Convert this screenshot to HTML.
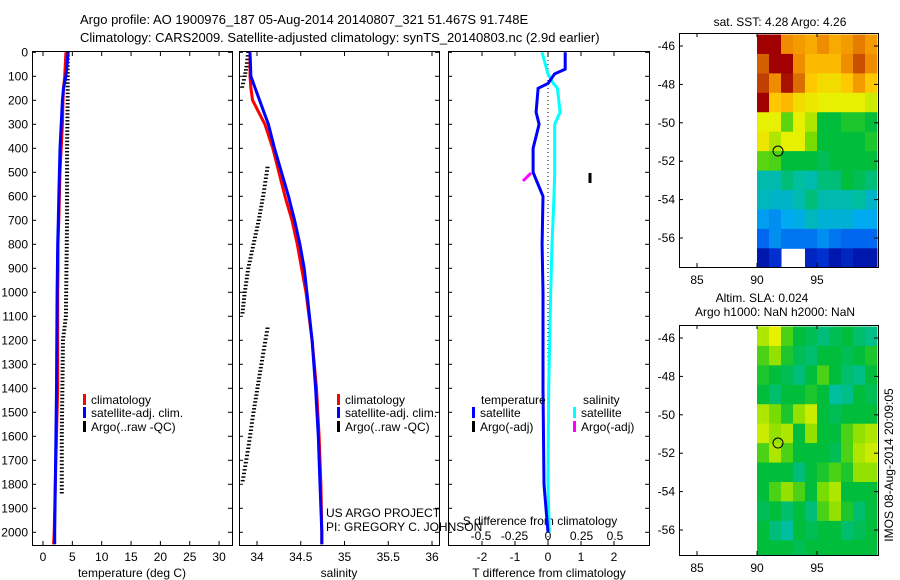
<!DOCTYPE html>
<html><head><meta charset="utf-8"><style>
body{margin:0;background:#fff;}
svg{display:block;font-family:"Liberation Sans",sans-serif;}
text{font-size:12px;fill:#000;}
</style></head><body>
<svg id="c" width="900" height="580" xmlns="http://www.w3.org/2000/svg">
<text x="80" y="24" style="font-size:13px">Argo profile: AO 1900976_187 05-Aug-2014 20140807_321 51.467S 91.748E</text>
<text x="80" y="42" style="font-size:13px">Climatology: CARS2009. Satellite-adjusted climatology: synTS_20140803.nc (2.9d earlier)</text>
<g id="g"></g>
</svg>
<script>
// ---- data ----
const depthClim = [0,100,150,200,300,400,500,600,700,800,900,1000,1200,1400,1600,1800,2000,2050];
const tempClim  = [3.9,3.7,3.5,3.4,3.3,3.1,2.9,2.8,2.7,2.55,2.55,2.5,2.5,2.5,2.3,2.1,1.9,1.8];
const tempSat   = [4.3,3.9,3.5,3.3,3.1,2.9,2.8,2.7,2.6,2.5,2.45,2.4,2.35,2.3,2.2,2.1,2.0,2.0];
const salClim   = [33.92,33.92,33.93,33.95,34.09,34.18,34.25,34.32,34.4,34.46,34.51,34.56,34.63,34.68,34.71,34.73,34.74,34.74];
const salSat    = [33.92,33.93,33.98,34.03,34.13,34.2,34.28,34.36,34.43,34.49,34.54,34.57,34.63,34.67,34.7,34.72,34.74,34.74];
const depthArgoT = [0,200,400,500,700,900,1100,1200,1400,1600,1850];
const tempArgo   = [4.2,4.2,4.1,4.1,4.1,4.0,3.9,3.4,3.3,3.2,3.2];
const depthArgoS1 = [0,60,100,160];
const salArgo1    = [33.9,33.88,33.86,33.82];
const depthArgoS2 = [480,600,700,800,900,1000,1100];
const salArgo2    = [34.12,34.07,34.02,33.96,33.9,33.86,33.83];
const depthArgoS3 = [1150,1300,1500,1650,1800];
const salArgo3    = [34.12,34.05,33.96,33.9,33.83];
const depthDiff = [0,70,90,130,150,250,300,400,500,600,800,1000,1400,1800,2000];
const tDiffSat  = [0.52,0.52,0.2,0,-0.3,-0.36,-0.27,-0.45,-0.45,-0.15,-0.18,-0.15,-0.15,-0.12,0.0];
const sDiffSat  = [-0.045,-0.01,0,0.04,0.07,0.09,0.05,0.05,0.05,0.045,0.03,0.02,0.005,0.0,0.01];
const tTicks = [0,5,10,15,20,25,30];
const sTicks = [34,34.5,35,35.5,36];
const sTickLabels = ["34","34.5","35","35.5","36"];
const dTicks = [0,100,200,300,400,500,600,700,800,900,1000,1100,1200,1300,1400,1500,1600,1700,1800,1900,2000];
const tdTicks = [-2,-1,0,1,2];
const sdTicks = [-0.5,-0.25,0,0.25,0.5];
const sdTickLabels = ["-0.5","-0.25","0","0.25","0.5"];
const lonTicks = [85,90,95];
const latTicks = [-46,-48,-50,-52,-54,-56];
// SST map cells (colormap index 0..1), rows from -45.5 down, cols 90..100E
const sstGrid = [
[1,1,.82,.8,.78,.82,.78,.8,.84,.8],
[.88,1,1,.82,.76,.76,.76,.82,.9,.82],
[.92,.82,.98,.86,.74,.7,.7,.74,.8,.74],
[1,.74,.76,.7,.68,.66,.66,.66,.66,.64],
[.66,.66,.56,.66,.62,.5,.5,.52,.52,.5],
[.68,.62,.66,.66,.58,.5,.5,.5,.5,.52],
[.56,.55,.5,.5,.5,.48,.5,.5,.5,.5],
[.4,.4,.45,.42,.4,.45,.45,.5,.48,.45],
[.38,.36,.36,.4,.45,.4,.4,.4,.42,.36],
[.28,.26,.3,.32,.38,.34,.34,.34,.3,.3],
[.2,.26,.22,.22,.22,.26,.22,.2,.2,.2],
[.05,.1,-1,-1,.08,.1,.05,.08,.05,.05]];
const slaGrid = [
[.62,.66,.55,.5,.48,.45,.48,.5,.46,.44],
[.55,.6,.52,.48,.46,.5,.5,.48,.5,.52],
[.52,.5,.48,.45,.5,.55,.5,.46,.44,.5],
[.5,.46,.5,.5,.52,.5,.42,.44,.5,.48],
[.62,.58,.52,.6,.64,.5,.48,.5,.5,.5],
[.64,.6,.62,.5,.6,.5,.5,.55,.6,.62],
[.55,.62,.55,.5,.5,.5,.48,.55,.62,.64],
[.5,.5,.5,.45,.5,.52,.55,.52,.6,.6],
[.5,.55,.6,.55,.5,.58,.62,.5,.5,.5],
[.48,.5,.46,.5,.45,.55,.6,.52,.46,.5],
[.5,.45,.42,.5,.48,.5,.5,.46,.48,.5],
[.5,.5,.5,.48,.5,.5,.5,.5,.5,.5]];

// ---- axis functions ----
const yD = d => 52.3 + d*0.24;
const xT = t => 43 + t*5.87;
const xS = s => 257 + (s-34)*87.5;
const xTd = t => 548 + t*33;
const xSd = s => 548 + s*134;
const xLon = l => 757 + (l-90)*12;
const yLatTop = l => 46 + (-46-l)*19.2;
const yLatBot = l => 338 + (-46-l)*19.2;

const NS="http://www.w3.org/2000/svg", G=document.getElementById('g');
function mk(tag, at, parent){const e=document.createElementNS(NS,tag);for(const k in at)e.setAttribute(k,at[k]);(parent||G).appendChild(e);return e;}
function txt(x,y,s,anchor,extra){const e=mk('text',Object.assign({x:x,y:y,'text-anchor':anchor||'start'},extra||{}));e.textContent=s;return e;}
function line(xs,ys,col,w,dash,name){
  let d='';for(let i=0;i<xs.length;i++)d+=(i?'L':'M')+xs[i].toFixed(1)+' '+ys[i].toFixed(1);
  const p=mk('path',{d:d,fill:'none',stroke:col,'stroke-width':w,'stroke-dasharray':dash||'none'});
  
  
  return p;}
function stepLine(vals,deps,fx,col,w,name){
  const xs=[],ys=[];for(let i=0;i<vals.length;i++){xs.push(fx(vals[i]));ys.push(yD(deps[i]));}
  return line(xs,ys,col,w,null,name);}
function dashes(vals,deps,fx,col,name){
  const g=mk('g',{});
  
  
  for(let i=0;i<vals.length-1;i++){
    const n=Math.max(1,Math.round((yD(deps[i+1])-yD(deps[i]))/3.5));
    for(let k=0;k<n;k++){const f=k/n;const v=vals[i]+(vals[i+1]-vals[i])*f;const d=deps[i]+(deps[i+1]-deps[i])*f;
      mk('rect',{x:fx(v)-2,y:yD(d)-0.8,width:4,height:1.5,fill:col},g);}
  }
  return g;}
function box(x1,y1,x2,y2,name){const r=mk('rect',{x:x1,y:y1,width:x2-x1,height:y2-y1,fill:'none',stroke:'#000','stroke-width':1});
  
  }

box(32.5,51.5,232.5,545.5,'temperature-panel');
box(239.5,51.5,439.5,545.5,'salinity-panel');
box(448.5,51.5,649.5,545.5,'difference-panel');
dTicks.forEach(d=>{const y=yD(d);
  const t=txt(28,y+4,String(d),'end');
  
  
  [[32,36],[228,232],[239,243],[435,439],[448,452],[645,649]].forEach(a=>mk('line',{x1:a[0],x2:a[1],y1:y,y2:y,stroke:'#000'}));
});
tTicks.forEach(t=>{const x=xT(t);mk('line',{x1:x,x2:x,y1:545,y2:541,stroke:'#000'});mk('line',{x1:x,x2:x,y1:52,y2:56,stroke:'#000'});
  const e=txt(x,561,String(t),'middle');});
sTicks.forEach((s,i)=>{const x=xS(s);mk('line',{x1:x,x2:x,y1:545,y2:541,stroke:'#000'});mk('line',{x1:x,x2:x,y1:52,y2:56,stroke:'#000'});
  const e=txt(x,561,sTickLabels[i],'middle');});
tdTicks.forEach(t=>{const x=xTd(t);mk('line',{x1:x,x2:x,y1:545,y2:541,stroke:'#000'});mk('line',{x1:x,x2:x,y1:52,y2:56,stroke:'#000'});
  const e=txt(x,561,String(t),'middle');});
sdTicks.forEach((s,i)=>{const x=xSd(s);
  const e=txt(x,540,sdTickLabels[i],'middle');});
let e;
e=txt(132,577,'temperature (deg C)','middle');
e=txt(339,577,'salinity','middle');
e=txt(549,577,'T difference from climatology','middle');
e=txt(540,525,'S difference from climatology','middle');

dashes(tempArgo,depthArgoT,xT,'#000','temperature-argo');
stepLine(tempClim,depthClim,xT,'#f00',3,'temperature-climatology');
stepLine(tempSat,depthClim,xT,'#00f',3,'temperature-satellite-adj');
dashes(salArgo1,depthArgoS1,xS,'#000','salinity-argo-upper');
dashes(salArgo2,depthArgoS2,xS,'#000','salinity-argo-mid');
dashes(salArgo3,depthArgoS3,xS,'#000','salinity-argo-deep');
stepLine(salClim,depthClim,xS,'#f00',3,'salinity-climatology');
stepLine(salSat,depthClim,xS,'#00f',3,'salinity-satellite-adj');
line([548,548],[52,545],'#000',1,'1,3','zero-line');
stepLine(sDiffSat,depthDiff,xSd,'#0ff',3,'salinity-diff-satellite');
stepLine(tDiffSat,depthDiff,xTd,'#00f',3,'temperature-diff-satellite');
line([523,531],[181,173],'#f0f',3,null,'salinity-diff-argo');
line([590,590],[173,183],'#000',3,null,'temperature-diff-argo');

function leg(x,y,col,label,name){const g=mk('g',{});
  mk('rect',{x:x,y:y-10,width:3,height:11,fill:col},g);const t=mk('text',{x:x+8,y:y},g);t.textContent=label;}
[[83,'temperature-legend'],[337,'salinity-legend']].forEach(a=>{
  leg(a[0],404,'#f00','climatology',a[1]+'-climatology');
  leg(a[0],417,'#00f','satellite-adj. clim.',a[1]+'-satellite');
  leg(a[0],431,'#000','Argo(..raw -QC)',a[1]+'-argo');});
e=txt(481,404,'temperature');
e=txt(583,404,'salinity');
leg(472,417,'#00f','satellite','legend-t-satellite');
leg(472,431,'#000','Argo(-adj)','legend-t-argo');
leg(573,417,'#0ff','satellite','legend-s-satellite');
leg(573,431,'#f0f','Argo(-adj)','legend-s-argo');
e=txt(326,517,'US ARGO PROJECT');
e=txt(326,531,'PI: GREGORY C. JOHNSON');

// colormap
const cmStops=[[0,[0,0,140]],[.15,[0,70,240]],[.3,[0,170,240]],[.42,[0,190,160]],[.5,[0,190,60]],[.58,[120,220,0]],[.66,[230,240,0]],[.74,[255,200,0]],[.82,[240,140,0]],[.9,[200,80,0]],[1,[160,0,0]]];
function cmap(v){for(let i=1;i<cmStops.length;i++){if(v<=cmStops[i][0]){const a=cmStops[i-1],b=cmStops[i];const f=(v-a[0])/(b[0]-a[0]);
  return 'rgb('+a[1].map((c,k)=>Math.round(c+(b[1][k]-c)*f)).join(',')+')';}}return 'rgb(160,0,0)';}
function map(grid,yLat,top,bot,name){
  const g=mk('g',{});
  grid.forEach((row,i)=>row.forEach((v,j)=>{if(v<0)return;
    const lat0=-45.4-i*1.0125, x0=xLon(90+j), y0=Math.max(top,yLat(lat0));
    const y1=Math.min(bot,yLat(lat0-1.0125));
    const c=mk('rect',{x:x0,y:y0,width:xLon(91+j)-x0+0.5,height:y1-y0+0.5,fill:cmap(v)},g);
    
    }));
  mk('rect',{x:679.5,y:top+0.5,width:199,height:bot-top,fill:'none',stroke:'#000'},g);
  lonTicks.forEach(l=>{const x=xLon(l);mk('line',{x1:x,x2:x,y1:bot,y2:bot-4,stroke:'#000'},g);mk('line',{x1:x,x2:x,y1:top,y2:top+4,stroke:'#000'},g);
    const t=mk('text',{x:x,y:bot+17,'text-anchor':'middle'},g);t.textContent=String(l);});
  latTicks.forEach(l=>{const y=yLat(l);mk('line',{x1:679,x2:683,y1:y,y2:y,stroke:'#000'},g);mk('line',{x1:874,x2:878,y1:y,y2:y,stroke:'#000'},g);
    const t=mk('text',{x:675,y:y+4,'text-anchor':'end'},g);t.textContent=String(l);});
  mk('circle',{cx:xLon(91.75),cy:yLat(-51.47),r:5,fill:'none',stroke:'#000'},g);
}
map(sstGrid,yLatTop,33,267,'sst-map');
map(slaGrid,yLatBot,325,555,'sla-map');
e=txt(780,26,'sat. SST: 4.28 Argo: 4.26','middle');
e=txt(762,302,'Altim. SLA: 0.024','middle');
e=txt(775,316,'Argo h1000: NaN h2000: NaN','middle');
e=txt(0,0,'IMOS 08-Aug-2014 20:09:05','middle',{transform:'translate(893,465) rotate(-90)'});
</script>
</body></html>
